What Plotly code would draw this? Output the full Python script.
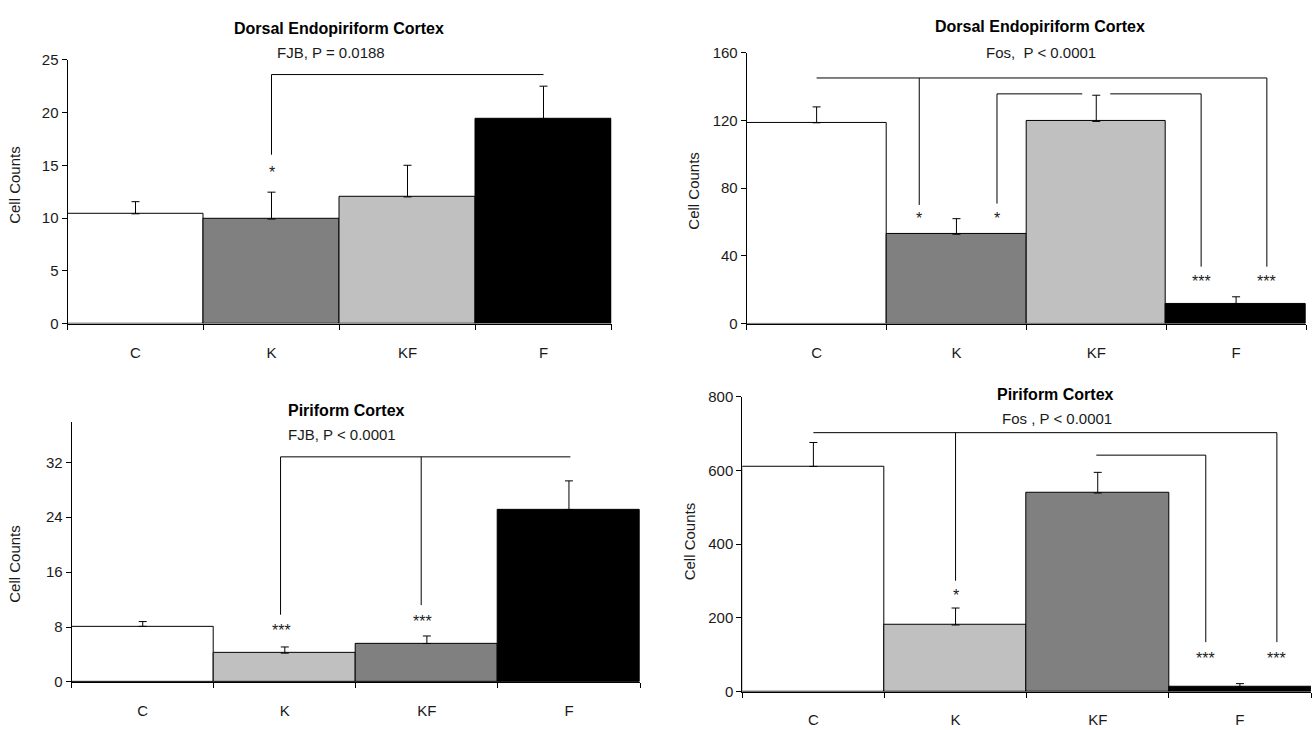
import plotly.graph_objects as go

W, H = 1312, 730

categories = ["C", "K", "KF", "F"]

# Panel A: Dorsal Endopiriform Cortex, FJB
dec_fjb_mean = [10.4, 9.9, 12.0, 19.4]
dec_fjb_sem = [1.15, 2.55, 3.0, 3.1]
# Panel B: Dorsal Endopiriform Cortex, Fos
dec_fos_mean = [118.7, 52.8, 119.5, 11.5]
dec_fos_sem = [9.4, 9.2, 15.5, 4.3]
# Panel C: Piriform Cortex, FJB
pir_fjb_mean = [8.1, 4.2, 5.6, 25.1]
pir_fjb_sem = [0.7, 0.9, 1.1, 4.2]
# Panel D: Piriform Cortex, Fos
pir_fos_mean = [611, 181, 539, 13]
pir_fos_sem = [65, 46, 56, 9]

colors_top = ["#FFFFFF", "#808080", "#C0C0C0", "#000000"]
colors_bot = ["#FFFFFF", "#C0C0C0", "#808080", "#000000"]

# significance brackets: polylines (x in category index units, y in data units)
dec_fjb_brackets = [[(1.0, 16.0), (1.0, 23.6), (3.0, 23.6)]]
dec_fjb_stars = [(1.0, 14.6, "*")]

dec_fos_brackets = [
    [(0.0, 145.2), (3.22, 145.2), (3.22, 33.6)],
    [(0.734, 145.2), (0.734, 70.1)],
    [(1.29, 70.9), (1.29, 135.8), (1.9, 135.8)],
    [(2.1, 135.8), (2.75, 135.8), (2.75, 33.6)],
]
dec_fos_stars = [(0.734, 64, "*"), (1.29, 64, "*"), (2.75, 26.7, "***"), (3.22, 26.7, "***")]

pir_fjb_brackets = [
    [(0.97, 9.8), (0.97, 32.8), (3.01, 32.8)],
    [(1.96, 32.8), (1.96, 11.2)],
]
pir_fjb_stars = [(0.98, 7.9, "***"), (1.97, 9.3, "***")]

pir_fos_brackets = [
    [(0.0, 702.6), (3.26, 702.6), (3.26, 134.5)],
    [(1.0, 702.6), (1.0, 301)],
    [(1.99, 641.6), (2.76, 641.6), (2.76, 134.5)],
]
pir_fos_stars = [(1.0, 268, "*"), (2.76, 97, "***"), (3.26, 97, "***")]

panels = [
    dict(mean=dec_fjb_mean, sem=dec_fjb_sem, colors=colors_top, br=dec_fjb_brackets, st=dec_fjb_stars,
         xpx=(67.5, 611.5), ypx=(322, 52), yr=(0, 25), dt=5,
         title="Dorsal Endopiriform Cortex", sub="FJB, P = 0.0188",
         tpos=(339, 20), spos=(331, 45), ytpos=(15, 180), lab=348),
    dict(mean=dec_fos_mean, sem=dec_fos_sem, colors=colors_top, br=dec_fos_brackets, st=dec_fos_stars,
         xpx=(746.7, 1306), ypx=(322, 45), yr=(0, 160), dt=40,
         title="Dorsal Endopiriform Cortex", sub="Fos,  P < 0.0001",
         tpos=(1040, 18), spos=(1041, 45), ytpos=(694, 186), lab=348),
    dict(mean=pir_fjb_mean, sem=pir_fjb_sem, colors=colors_bot, br=pir_fjb_brackets, st=pir_fjb_stars,
         xpx=(71.7, 640), ypx=(689, 422.7), yr=(0, 37.9), dt=8,
         title="Piriform Cortex", sub="FJB, P < 0.0001",
         tpos=(346, 411), spos=(342, 436), ytpos=(15, 568), lab=715),
    dict(mean=pir_fos_mean, sem=pir_fos_sem, colors=colors_bot, br=pir_fos_brackets, st=pir_fos_stars,
         xpx=(742.3, 1311), ypx=(699, 397), yr=(0, 800), dt=200,
         title="Piriform Cortex", sub="Fos , P < 0.0001",
         tpos=(1055, 395), spos=(1057, 419), ytpos=(689, 545), lab=724),
]

FONT = "Liberation Sans, Arial, sans-serif"
TXT = "#1a1a1a"
fig = go.Figure()
annotations = []

for i, p in enumerate(panels):
    n = "" if i == 0 else str(i + 1)
    xa, ya = "x" + n, "y" + n
    xs = list(range(len(categories)))
    fig.add_trace(go.Bar(
        x=xs, y=p["mean"], width=1.0, xaxis=xa, yaxis=ya,
        marker=dict(color=p["colors"], line=dict(color="black", width=1)),
        error_y=dict(type="data", symmetric=False, array=p["sem"],
                     arrayminus=[0] * len(p["sem"]), color="black", thickness=1, width=4),
        showlegend=False, hoverinfo="skip",
    ))
    for line in p["br"]:
        fig.add_trace(go.Scatter(
            x=[pt[0] for pt in line], y=[pt[1] for pt in line], xaxis=xa, yaxis=ya,
            mode="lines", line=dict(color="black", width=1), showlegend=False, hoverinfo="skip",
        ))
    for sx, sy, s in p["st"]:
        annotations.append(dict(x=sx, y=sy, xref=xa, yref=ya, text=s, showarrow=False,
                                xanchor="center", yanchor="middle", yshift=-3,
                                font=dict(family=FONT, size=16, color=TXT)))
    x0, x1 = p["xpx"]
    yb, yt = p["ypx"]
    ticklen_lab = max(p["lab"] - yb - 11, 1)
    fig.layout["xaxis" + n] = dict(
        domain=[x0 / W, x1 / W], anchor=ya, range=[-0.5, 3.5],
        tickvals=xs, ticktext=categories, ticks="outside", ticklen=ticklen_lab,
        tickcolor="rgba(0,0,0,0)", showline=True, linecolor="black", linewidth=1,
        showgrid=False, zeroline=False, fixedrange=True,
        tickfont=dict(family=FONT, size=15, color=TXT),
        minor=dict(tickvals=[-0.5, 0.5, 1.5, 2.5, 3.5], ticks="outside", ticklen=5,
                   tickcolor="black", tickwidth=1, showgrid=False),
    )
    fig.layout["yaxis" + n] = dict(
        domain=[1 - yb / H, 1 - yt / H], anchor=xa, range=list(p["yr"]),
        tickmode="linear", tick0=0, dtick=p["dt"], ticks="outside", ticklen=5,
        tickcolor="black", showline=True, linecolor="black", linewidth=1,
        showgrid=False, zeroline=False, fixedrange=True,
        tickfont=dict(family=FONT, size=15, color=TXT),
    )
    annotations.append(dict(x=p["tpos"][0] / W, y=1 - p["tpos"][1] / H, xref="paper", yref="paper",
                            text="<b>" + p["title"] + "</b>", showarrow=False,
                            xanchor="center", yanchor="middle",
                            font=dict(family=FONT, size=16, color="black")))
    annotations.append(dict(x=p["spos"][0] / W, y=1 - p["spos"][1] / H, xref="paper", yref="paper",
                            text=p["sub"], showarrow=False, xanchor="center", yanchor="middle",
                            font=dict(family=FONT, size=15, color=TXT)))
    annotations.append(dict(x=p["ytpos"][0] / W, y=1 - p["ytpos"][1] / H, xref="paper", yref="paper",
                            text="Cell Counts", textangle=-90, showarrow=False,
                            xanchor="center", yanchor="middle",
                            font=dict(family=FONT, size=15, color=TXT)))

fig.update_layout(
    width=W, height=H, margin=dict(l=0, r=0, t=0, b=0),
    paper_bgcolor="white", plot_bgcolor="white",
    annotations=annotations, bargap=0,
)

fig.write_html("out.html", config={"displayModeBar": False})
